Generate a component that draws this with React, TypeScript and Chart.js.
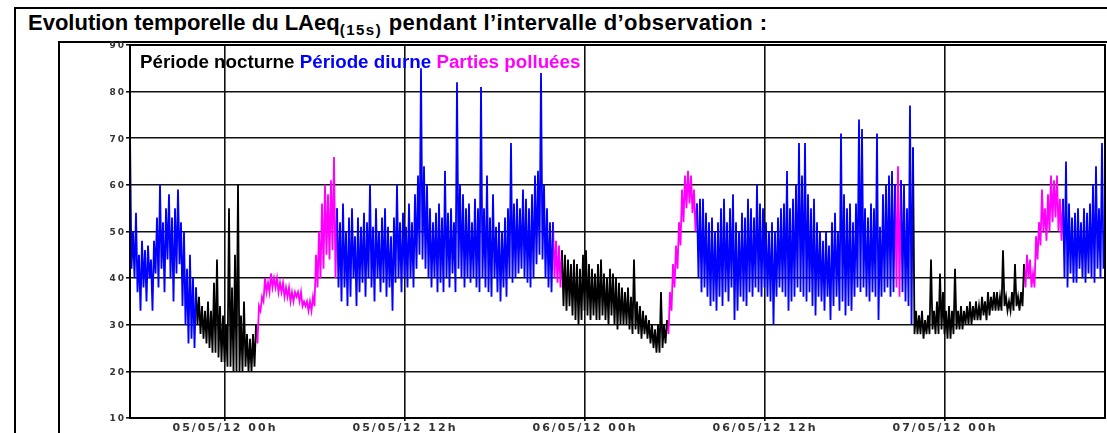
import React, { useEffect, useRef } from "react";
import { Chart, registerables } from "chart.js";

Chart.register(...registerables);

// Time axis in hours relative to 05/05/12 00h; one reading every 6 minutes
const startHour = -19 / 3; // 04/05/12 17h40
const stepHours = 0.1;
const endHour = 58 + 2 / 3; // 07/05/12 10h40

// LAeq readings (dB(A))
const laeq = [
  // diurne
  71, 42, 50, 40, 54, 37, 45, 33, 48, 38, 46, 35, 47, 40, 44, 33, 48, 41, 53, 38, 60, 42, 52, 37,
  55, 44, 58, 40, 53, 35, 55, 41, 59, 43, 52, 34, 50, 30, 42, 26, 45, 27, 40, 25,
  // nocturne
  38, 30, 36, 28, 34, 27, 33, 26, 35, 25, 33, 24, 39, 24, 44, 23, 34, 22, 32, 22, 30, 21, 55, 21,
  38, 20, 45, 20, 60, 20, 32, 20, 35, 21, 28, 20, 27, 20, 28, 21,
  // polluée
  30, 26, 34, 33, 36, 35, 40, 37, 39, 37, 41, 38, 40, 38, 40, 37, 39, 37, 39, 36, 38, 36, 38, 35,
  37, 35, 37, 36, 37, 35, 37, 34, 35, 34, 35, 33, 35, 33, 36, 34, 45, 38, 50, 40, 56, 42, 60, 45,
  58, 44, 61, 46, 66, 40,
  // diurne
  55, 38, 52, 35, 56, 38, 50, 34, 53, 36, 55, 40, 49, 34, 53, 37, 51, 39, 54, 36, 52, 40, 60, 38,
  51, 35, 55, 40, 50, 37, 53, 39, 55, 36, 51, 38, 49, 33, 53, 39, 60, 40, 52, 37, 54, 40, 51, 38,
  56, 40, 52, 38, 58, 42, 62, 45, 85, 44, 64, 42, 60, 40, 55, 38, 52, 40, 54, 37, 56, 39, 53, 37,
  63, 40, 54, 38, 55, 41, 52, 37, 82, 42, 60, 40, 58, 38, 55, 40, 56, 39, 52, 40, 57, 38, 55, 37,
  81, 40, 55, 38, 62, 37, 53, 36, 58, 40, 51, 37, 52, 35, 50, 38, 53, 36, 55, 40, 69, 39, 56, 40,
  57, 41, 55, 42, 59, 40, 57, 39, 55, 38, 58, 40, 62, 43, 63, 45, 84, 44, 60, 40, 55, 38, 52, 37,
  // polluée
  52, 40, 48, 39, 47, 38,
  // nocturne
  46, 34, 45, 33, 44, 34, 43, 32, 44, 31, 43, 30, 42, 31, 45, 33, 46, 32, 43, 31, 42, 32, 41, 31,
  43, 31, 44, 32, 41, 31, 40, 30, 42, 32, 41, 30, 40, 29, 39, 30, 38, 30, 37, 30, 38, 29, 36, 28,
  44, 29, 35, 28, 34, 27, 33, 28, 32, 27, 31, 26, 30, 25, 29, 24, 30, 24, 37, 25, 30, 26,
  // polluée
  31, 28, 37, 33, 43, 38, 47, 42, 52, 47, 59, 52, 62, 55, 63, 56, 62, 54, 59, 50,
  // diurne
  56, 40, 57, 37, 57, 38, 54, 36, 52, 34, 53, 35, 50, 33, 52, 36, 55, 34, 57, 37, 52, 35, 55, 38,
  58, 31, 52, 33, 50, 36, 54, 35, 53, 34, 57, 37, 55, 36, 53, 38, 60, 37, 56, 36, 55, 38, 52, 36,
  50, 35, 52, 30, 50, 36, 53, 38, 55, 37, 56, 36, 63, 33, 55, 35, 57, 36, 60, 38, 69, 37, 62, 36,
  69, 35, 58, 37, 55, 34, 57, 32, 52, 36, 50, 35, 48, 33, 50, 36, 47, 31, 52, 34, 54, 36, 50, 33,
  71, 35, 58, 32, 55, 34, 56, 33, 52, 36, 56, 38, 74, 37, 72, 38, 55, 36, 53, 35, 56, 37, 55, 36,
  71, 31, 51, 36, 58, 37, 60, 38, 62, 36, 63, 37,
  // polluée
  60, 38, 64, 36,
  // diurne
  61, 37, 60, 35, 55, 34, 77, 30,
  // nocturne
  68, 28, 33, 28, 32, 28, 33, 27, 31, 28, 32, 28, 44, 29, 33, 28, 35, 28, 41, 29, 37, 28, 33, 27,
  34, 27, 33, 28, 42, 29, 33, 29, 34, 29, 33, 30, 34, 30, 35, 30, 34, 31, 35, 31, 34, 31, 36, 32,
  35, 31, 37, 32, 36, 33, 37, 33, 37, 33, 36, 33, 46, 34, 36, 33, 35, 33, 37, 33, 43, 34, 36, 33,
  37, 34,
  // polluée
  43, 38, 45, 40, 44, 38, 41, 38, 49, 44, 52, 47, 59, 50, 55, 48, 58, 50, 62, 52, 61, 53, 62, 50,
  57, 48,
  // diurne
  57, 40, 65, 38, 56, 41, 53, 39, 54, 39, 55, 42, 52, 40, 55, 39, 54, 41, 56, 40, 60, 39, 64, 42,
  55, 40, 69, 42, 50, 45,
];

// Observation periods (start hour and kind)
const periodStarts = [-6.333, -1.933, 2.067, 7.467, 21.867, 22.467, 29.467, 31.467, 44.667, 45.067, 45.867, 53.267, 55.867];
const periodKinds = ["diurne", "nocturne", "pollue", "diurne", "pollue", "nocturne", "pollue", "diurne", "pollue", "diurne", "nocturne", "pollue", "diurne"];

const seriesKeys = ["diurne", "nocturne", "pollue"];
const seriesNames = ["Période diurne", "Période nocturne", "Parties polluées"];
const seriesColors = ["#0000ff", "#000000", "#ff00ff"];

const legendOrder = ["Période nocturne", "Période diurne", "Parties polluées"];
const legendColors = ["#000000", "#0000ff", "#ff00ff"];

const tickHours = [0, 12, 24, 36, 48];
const tickLabels = ["05/05/12 00h", "05/05/12 12h", "06/05/12 00h", "06/05/12 12h", "07/05/12 00h"];
const yTicks = [10, 20, 30, 40, 50, 60, 70, 80, 90];

const hourAt = (i: number) => startHour + i * stepHours;
const kindAt = (i: number) => {
  const h = hourAt(i);
  let k = periodKinds[0];
  for (let j = 0; j < periodStarts.length; j++) {
    if (periodStarts[j] <= h + 0.02) k = periodKinds[j];
  }
  return k;
};

const framePlugin = {
  id: "frame",
  beforeDraw(chart: any) {
    chart.ctx.letterSpacing = "2px";
  },
  afterDraw(chart: any) {
    const { ctx, chartArea } = chart;
    ctx.save();
    ctx.strokeStyle = "#000";
    ctx.lineWidth = 2;
    ctx.strokeRect(chartArea.left, chartArea.top, chartArea.right - chartArea.left, chartArea.bottom - chartArea.top);
    ctx.restore();
  },
};

export default function App() {
  const ref = useRef<HTMLCanvasElement | null>(null);

  useEffect(() => {
    if (!ref.current) return;
    const datasets = seriesKeys.map((key, s) => ({
      label: seriesNames[s],
      data: laeq.map((v, i) => ({
        x: hourAt(i),
        y: kindAt(i) === key || (i > 0 && kindAt(i - 1) === key) ? v : null,
      })),
      borderColor: seriesColors[s],
      backgroundColor: seriesColors[s],
      borderWidth: 1.8,
      pointRadius: 0,
      tension: 0,
      spanGaps: false,
    }));

    const chart = new Chart(ref.current, {
      type: "line",
      data: { datasets },
      plugins: [framePlugin],
      options: {
        animation: false,
        responsive: false,
        devicePixelRatio: 1,
        layout: { padding: { left: 0, right: 2, top: 9, bottom: 0 } },
        plugins: { legend: { display: false }, tooltip: { enabled: false } },
        scales: {
          x: {
            type: "linear",
            min: startHour,
            max: endHour,
            afterBuildTicks: (s: any) => {
              s.ticks = tickHours.map((v) => ({ value: v }));
            },
            afterFit: (s: any) => {
              s.height = 15;
            },
            ticks: {
              autoSkip: false,
              maxRotation: 0,
              padding: 1,
              color: "#333",
              font: { family: "DejaVu Sans", size: 11, weight: "bold" },
              callback: (v: any) => {
                const idx = tickHours.indexOf(Number(v));
                return idx >= 0 ? tickLabels[idx] : "";
              },
            },
            grid: { color: "#111", lineWidth: 1.6, tickLength: 3 },
            border: { color: "#000", width: 2 },
          },
          y: {
            min: 10,
            max: 90,
            afterBuildTicks: (s: any) => {
              s.ticks = yTicks.map((v) => ({ value: v }));
            },
            afterFit: (s: any) => {
              s.width = 130;
            },
            ticks: {
              padding: 0,
              labelOffset: 1,
              color: "#333",
              font: { family: "DejaVu Sans", size: 9, weight: "bold" },
            },
            grid: { color: "#111", lineWidth: 1.6, tickLength: 4 },
            border: { color: "#000", width: 2 },
          },
        },
      },
    });
    return () => chart.destroy();
  }, []);

  return (
    <div style={{ position: "fixed", left: 0, top: 0, width: 1107, height: 433, background: "#fff", overflow: "hidden" }}>
      <div style={{ position: "absolute", left: 14, top: 7, width: 1200, height: 500, borderTop: "2px solid #000", borderLeft: "2px solid #000" }} />
      <div style={{ position: "absolute", left: 58, top: 41, width: 1200, height: 500, borderTop: "2px solid #000", borderLeft: "2px solid #000" }} />
      <div
        style={{
          position: "absolute",
          left: 28,
          top: 11,
          font: 'bold 22px "Liberation Sans", Arial, sans-serif',
          lineHeight: "24px",
          whiteSpace: "nowrap",
          color: "#000",
        }}
      >
        Evolution temporelle du LAeq
        <span style={{ fontSize: 15, position: "relative", top: 5, letterSpacing: 1.5 }}>(15s)</span>
        <span style={{ letterSpacing: 0.4 }}> pendant l’intervalle d’observation :</span>
      </div>
      <canvas ref={ref} width={1107} height={397} style={{ position: "absolute", left: 0, top: 36, width: 1107, height: 397 }} />
      <div
        style={{
          position: "absolute",
          left: 140,
          top: 52,
          font: 'bold 18.8px "Liberation Sans", Arial, sans-serif',
          lineHeight: "19px",
          whiteSpace: "nowrap",
        }}
      >
        {legendOrder.map((t, i) => (
          <span key={t} style={{ color: legendColors[i] }}>
            {t}
            {i < legendOrder.length - 1 ? " " : ""}
          </span>
        ))}
      </div>
    </div>
  );
}
